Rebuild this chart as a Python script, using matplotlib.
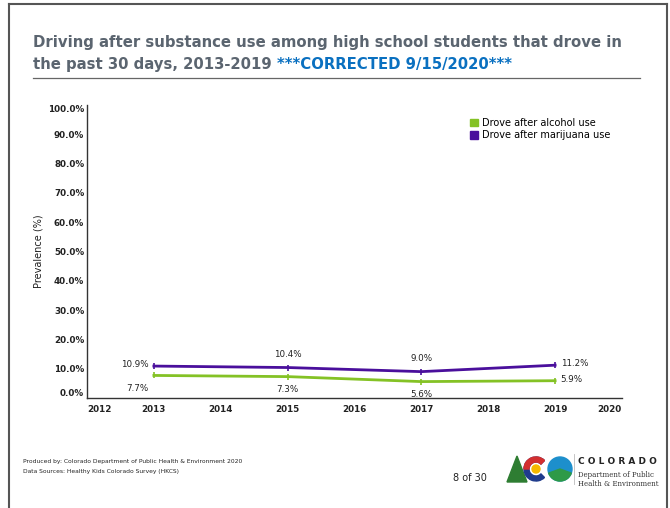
import matplotlib.pyplot as plt
from matplotlib.lines import Line2D
from matplotlib.patches import Patch, Polygon, Circle, Wedge

years = [2013, 2015, 2017, 2019]
alcohol = [7.7, 7.3, 5.6, 5.9]
marijuana = [10.9, 10.4, 9.0, 11.2]
yticks = [0, 10, 20, 30, 40, 50, 60, 70, 80, 90, 100]
xticks = [2012, 2013, 2014, 2015, 2016, 2017, 2018, 2019, 2020]

green = "#84c225"
purple = "#4a0f9c"
gray_txt = "#5b6570"
dark = "#333333"

fig = plt.figure(figsize=(6.7, 5.08), dpi=100)
fig.patch.set_facecolor("white")

# slide frame
W, H = 670, 508
def fx(px):
    return px / W
def fy(py):
    return 1 - py / H
for xs, ys in [([9, 9], [4, 508]), ([9, 667], [4, 4]), ([667, 667], [4, 508])]:
    fig.add_artist(Line2D([fx(x) for x in xs], [fy(y) for y in ys], color="#555555", lw=1.5))

# title
t1 = fig.text(fx(33), fy(43), "Driving after substance use among high school students that drove in",
              fontsize=10.7, fontweight="bold", color=gray_txt, va="center")
t2 = fig.text(fx(33), fy(64), "the past 30 days, 2013-2019 ",
              fontsize=10.7, fontweight="bold", color=gray_txt, va="center")
fig.add_artist(Line2D([fx(33), fx(640)], [fy(78), fy(78)], color="#666666", lw=0.9))

ax = fig.add_axes([fx(87), fy(398), fx(622) - fx(87), fy(105) - fy(398)])
ax.annotate("***CORRECTED 9/15/2020***", xy=(1, 0.5), xycoords=t2, va="center", ha="left",
            fontsize=10.7, fontweight="bold", color="#0a70c0", annotation_clip=False)

ax.plot(years, marijuana, color=purple, lw=2.0, marker="|", ms=5, mew=1.2)
ax.plot(years, alcohol, color=green, lw=2.0, marker="|", ms=5, mew=1.2)

ax.set_xlim(2012, 2020)
ax.set_ylim(0, 100)
ax.set_xticks(xticks)
ax.set_yticks(yticks)
ax.set_yticklabels([f"{v:.1f}%" for v in yticks])
ax.tick_params(length=0, labelsize=6.3, colors="#222222", pad=2)
for lab in ax.get_xticklabels() + ax.get_yticklabels():
    lab.set_fontweight("bold")
ax.tick_params(axis="x", pad=5)
xl = ax.get_xticklabels()
xl[0].set_ha("left")
xl[-1].set_ha("right")
yl = ax.get_yticklabels()
yl[0].set_va("bottom")
yl[-1].set_va("top")

for s in ["top", "right"]:
    ax.spines[s].set_visible(False)
for s in ["left", "bottom"]:
    ax.spines[s].set_color(dark)
    ax.spines[s].set_linewidth(1.0)

ax.set_ylabel("Prevalence (%)", fontsize=7, color="#222222", labelpad=3)

# value labels
m_off = [(-4, 1, "right", "center"), (0, 6, "center", "bottom"), (0, 6, "center", "bottom"), (4, 1, "left", "center")]
a_off = [(-4, -6, "right", "top"), (0, -6, "center", "top"), (0, -6, "center", "top"), (4, 1, "left", "center")]
for x, v, (dx, dy, ha, va) in zip(years, marijuana, m_off):
    ax.annotate(f"{v:.1f}%", (x, v), xytext=(dx, dy), textcoords="offset points",
                ha=ha, va=va, fontsize=6.3, color="#222222")
for x, v, (dx, dy, ha, va) in zip(years, alcohol, a_off):
    ax.annotate(f"{v:.1f}%", (x, v), xytext=(dx, dy), textcoords="offset points",
                ha=ha, va=va, fontsize=6.3, color="#222222")

handles = [Patch(color=green, label="Drove after alcohol use"),
           Patch(color=purple, label="Drove after marijuana use")]
fig.legend(handles=handles, loc="upper left", bbox_to_anchor=(fx(466), fy(114)),
           frameon=False, fontsize=7, handlelength=0.8, handleheight=0.8,
           handletextpad=0.4, labelspacing=0.25, borderaxespad=0)

# footer
fig.text(fx(23), fy(461), "Produced by: Colorado Department of Public Health & Environment 2020",
         fontsize=4.3, color="#222222", va="center")
fig.text(fx(23), fy(471), "Data Sources: Healthy Kids Colorado Survey (HKCS)",
         fontsize=4.3, color="#222222", va="center")
fig.text(fx(470), fy(478), "8 of 30", fontsize=7, color="#222222", va="center", ha="center")

# logo marks
lx = fig.add_axes([fx(505), fy(490), fx(575) - fx(505), fy(448) - fy(490)])
lx.set_xlim(0, 70)
lx.set_ylim(0, 42)
lx.set_aspect("equal")
lx.axis("off")
lx.add_patch(Polygon([[2, 8], [12, 34], [22, 8]], color="#2e7d32"))
lx.add_patch(Wedge((31, 21), 12, 45, 315, width=5, color="#1f3b8c"))
lx.add_patch(Wedge((31, 21), 12, 45, 180, width=5, color="#d32f2f"))
lx.add_patch(Circle((31, 21), 4, color="#f6b800"))
lx.add_patch(Circle((55, 21), 12, color="#1d8fcc"))
lx.add_patch(Wedge((55, 21), 12, 200, 340, color="#2e9a48"))
lx.add_artist(Line2D([69, 69], [6, 36], color="#bbbbbb", lw=0.6))

fig.text(fx(578), fy(462), "C O L O R A D O", fontsize=6.5, fontweight="bold", color="#222222", va="center")
fig.text(fx(578), fy(475), "Department of Public", fontsize=5, family="DejaVu Serif", color="#333333", va="center")
fig.text(fx(578), fy(484), "Health & Environment", fontsize=5, family="DejaVu Serif", color="#333333", va="center")

fig.savefig("out.png", dpi=100)
